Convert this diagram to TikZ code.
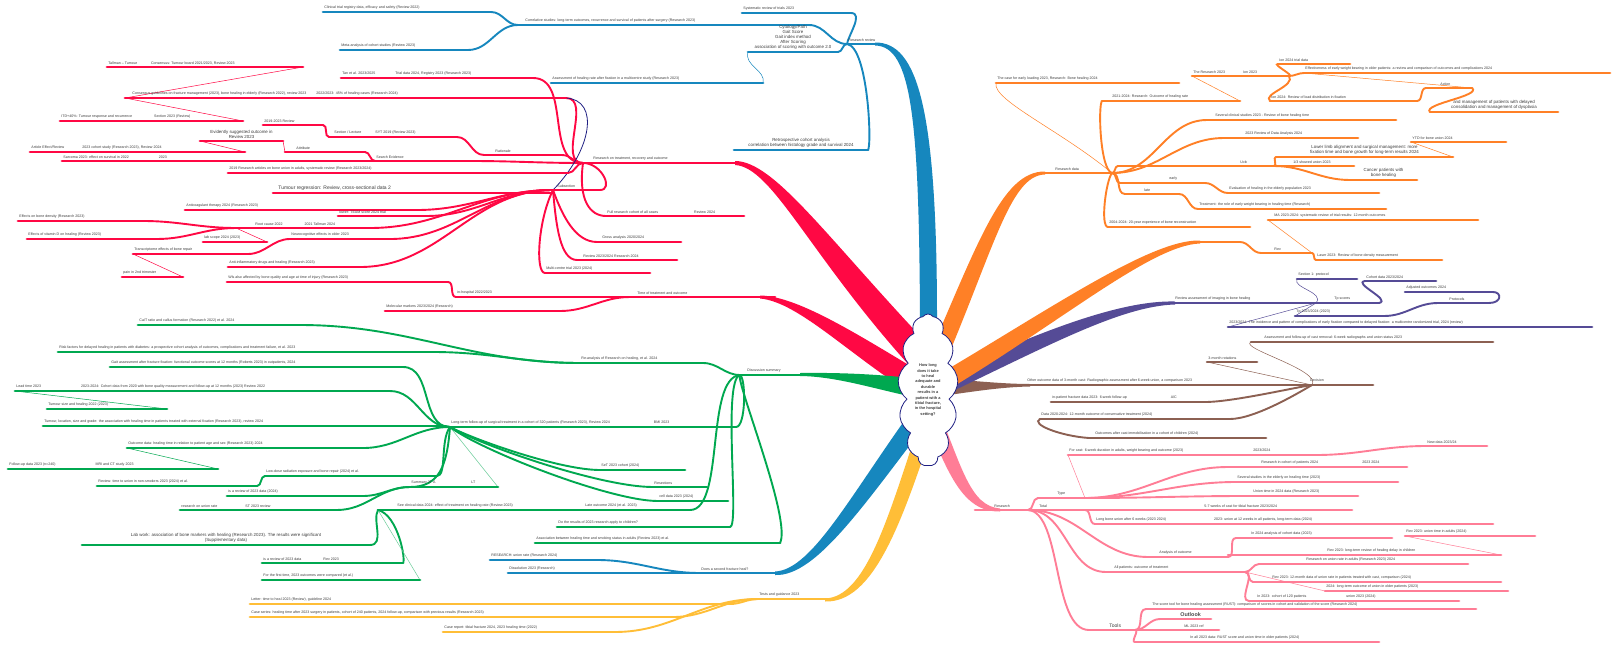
\documentclass[tikz,border=0pt]{standalone}
\usepackage{fontspec}
\setmainfont{Liberation Sans}
\usetikzlibrary{shapes.symbols,calc,backgrounds}
\definecolor{mmred}{RGB}{255,8,68}
\definecolor{mmblue}{RGB}{22,135,190}
\definecolor{mmgreen}{RGB}{0,168,80}
\definecolor{mmorange}{RGB}{255,128,38}
\definecolor{mmpurple}{RGB}{85,75,150}
\definecolor{mmbrown}{RGB}{140,96,82}
\definecolor{mmpink}{RGB}{255,125,150}
\definecolor{mmyellow}{RGB}{255,190,55}
\definecolor{mmnavy}{RGB}{30,30,130}
\definecolor{mmtext}{RGB}{60,60,60}
\tikzset{
 leafline/.style={line width=2.7pt,line cap=round},
 conn/.style={line width=1.9pt,line cap=round},
 thinconn/.style={line width=0.5pt,line cap=round},
 lbl/.style={font=\fontsize{3.6}{4.2}\selectfont,text=mmtext,inner sep=0pt,xshift=1.2pt,yshift=2.1pt},
 lblc/.style={font=\fontsize{4.4}{5}\selectfont,text=mmtext,inner sep=0pt,yshift=2.1pt,align=center},
}
\newcommand{\mmleaf}[6]{%
  \coordinate (#1-l) at (#3,#5);
  \coordinate (#1-r) at (#4,#5);
  \draw[leafline,#2] (#1-l) -- (#1-r);
  \node[lbl,anchor=south west] (#1) at (#1-l) {#6};
}
\newcommand{\mmleafc}[6]{%
  \coordinate (#1-l) at (#3,#5);
  \coordinate (#1-r) at (#4,#5);
  \draw[leafline,#2] (#1-l) -- (#1-r);
  \node[lblc,anchor=south] (#1) at ($(#1-l)!0.5!(#1-r)$) {#6};
}
\newcommand{\gap}[1]{\hspace*{#1pt}}
\begin{document}
\begin{tikzpicture}[x=1pt,y=-1pt]
\useasboundingbox (0,0) rectangle (1613,645);

% ===== BLUE TOP =====
\mmleaf{blmain}{mmblue}{847}{880}{44}{Research review}
\mmleaf{bl1}{mmblue}{518}{809}{25}{\gap{6}Correlative studies: long-term outcomes, recurrence and survival of patients after surgery (Research 2023)}
\mmleaf{bl1a}{mmblue}{323}{491}{12}{Clinical trial registry data, efficacy and safety (Review 2022)}
\mmleaf{bl1b}{mmblue}{340}{468}{50}{Meta-analysis of cohort studies (Review 2023)}
\mmleaf{bl2}{mmblue}{742}{851}{13}{Systematic review of trials 2023}
\mmleafc{bl3}{mmblue}{748}{838}{52}{Cytology/Path\\Gait Score\\Gait index method\\After Scoring\\association of scoring with outcome 2.0}
\mmleaf{bl4}{mmblue}{551}{763}{83}{Assessment of healing rate after fixation in a multicentre study (Research 2023)}
\mmleafc{bl5}{mmblue}{734}{868}{150}{Retrospective cohort analysis\\correlation between histology grade and survival 2024}

% ===== RED =====
\mmleaf{rdmain}{mmred}{583}{740}{163}{\gap{9}Research on treatment, recovery and outcome}
\mmleaf{rA}{mmred}{341}{533}{78}{Tan et al. 2023/2025\gap{20}Trial data 2024, Registry 2023 (Research 2023)}
\mmleaf{rB}{mmred}{125}{566}{98}{\gap{6}Consensus guidelines on fracture management (2023), bone healing in elderly (Research 2022), review 2023\gap{10}2022/2023: 45\% of healing cases (Research 2024)}
\mmleaf{rB1}{mmred}{107}{303}{67}{Tallman -- Tumour\gap{14}Consensus: Tumour board 2021/2023, Review 2023}
\mmleaf{rB2}{mmred}{60}{243}{121}{ITD+40\%: Tumour response and recurrence\gap{22}Section 2023 (Review)}
\mmleaf{rSec}{mmred}{329}{457}{137}{\gap{4}Section / Lecture\gap{14}SYT 2019 (Review 2023)}
\mmleaf{rSec1}{mmred}{263}{323}{125}{2019-2023 Review}
\mmleaf{rRat}{mmred}{484}{562}{155}{\gap{10}Rationale}
\mmleaf{rSearch}{mmred}{375}{470}{161}{Search Evidence}
\mmleaf{rSar}{mmred}{62}{375}{161}{Sarcoma 2023: effect on survival in 2022\gap{30}2023}
\mmleaf{rAtt}{mmred}{285}{365}{152}{\gap{10}Attribute}
\mmleafc{rEvi}{mmred}{200}{283}{141}{Evidently suggested outcome in\\Review 2023}
\mmleaf{rArt}{mmred}{30}{245}{152}{Article Effect/Review\gap{18}2023 cohort study (Research 2023), Review 2024}
\mmleaf{r2019}{mmred}{228}{568}{173}{2019 Research articles on bone union in adults, systematic review (Research 2023/2024)}
\mmleaf{rSub}{mmred}{553}{600}{190}{\gap{3}Subsection}
\mmleaf{rNeu}{mmred}{273}{553}{193}{\gap{4}{\fontsize{5}{6}\selectfont Tumour regression: Review, cross-sectional data 2}}
\mmleaf{rAnti}{mmred}{185}{417}{210}{Anticoagulant therapy 2024 (Research 2023)}
\mmleaf{rLow}{mmred}{338}{426}{216}{lower: TEAM score 2024 trial}
\mmleaf{rRoot}{mmred}{236}{370}{228}{\gap{18}Root cause 2022\gap{22}2021 Tallman 2024}
\mmleaf{rEff1}{mmred}{18}{143}{221}{Effects on bone density (Research 2023)}
\mmleaf{rEff2}{mmred}{27}{157}{239}{Effects of vitamin D on healing (Review 2023)}
\mmleaf{rLab}{mmred}{203}{267}{242}{lab scope 2024 (2023)}
\mmleaf{rNeuro}{mmred}{290}{390}{239}{Neurocognitive effects in older 2023}
\mmleaf{rTrans}{mmred}{133}{248}{254}{Transcriptome effects of bone repair}
\mmleaf{rPain}{mmred}{122}{183}{277}{pain in 2nd trimester}
\mmleaf{rAntiR}{mmred}{228}{360}{267}{Anti-inflammatory drugs and healing (Research 2023)}
\mmleaf{rFull}{mmred}{606}{744}{216}{Full research cohort of all cases\gap{36}Review 2024}
\mmleaf{rGross}{mmred}{597}{681}{242}{\gap{4}Gross analysis 2020/2024}
\mmleaf{rRev}{mmred}{577}{677}{260}{\gap{5}Review 2023/2024 Research 2024}
\mmleaf{rMulti}{mmred}{545}{650}{273}{Multi-centre trial 2023 (2024)}
\mmleaf{rWls}{mmred}{227}{448}{282}{Wls also affected by bone quality and age at time of injury (Research 2023)}
\mmleaf{rIn}{mmred}{456}{630}{297}{in-hospital 2022/2023}
\mmleaf{rTime}{mmred}{630}{775}{297}{\gap{6}Time of treatment and outcome}
\mmleaf{rMol}{mmred}{385}{560}{311}{Molecular markers 2023/2024 (Research)}

% ===== GREEN =====
\mmleaf{gmain}{mmgreen}{740}{810}{375}{\gap{6}Discussion summary}
\mmleaf{gRes}{mmgreen}{580}{703}{363}{Re-analysis of Research on healing, et al. 2024}
\mmleaf{gCa}{mmgreen}{138}{300}{325}{Ca/T ratio and callus formation (Research 2022) et al. 2024}
\mmleaf{gRas}{mmgreen}{58}{433}{352}{Risk factors for delayed healing in patients with diabetes: a prospective cohort analysis of outcomes, complications and treatment failure, et al. 2023}
\mmleaf{gLong}{mmgreen}{450}{736}{427}{Long-term follow-up of surgical treatment in a cohort of 320 patients (Research 2023), Review 2024\gap{44}BMI 2023}
\mmleaf{gAss}{mmgreen}{110}{403}{367}{Gait assessment after fracture fixation: functional outcome scores at 12 months (Roberts 2023) in outpatients, 2024}
\mmleaf{g2023}{mmgreen}{15}{390}{391}{Lead time 2023\gap{40}2023-2024: Cohort data from 2020 with bone quality measurement and follow-up at 12 months (2023) Review 2022}
\mmleaf{gTum}{mmgreen}{47}{167}{409}{Tumour size and healing 2022 (2023)}
\mmleaf{gTumL}{mmgreen}{43}{445}{426}{Tumour, location, size and grade: the association with healing time in patients treated with external fixation (Research 2023), review 2024}
\mmleaf{gOut}{mmgreen}{127}{363}{448}{Outcome data: healing time in relation to patient age and sex (Research 2023) 2024}
\mmleaf{gOut1}{mmgreen}{8}{218}{469}{Follow-up data 2023 (n=240)\gap{40}MRI and CT study 2023}
\mmleaf{gLo}{mmgreen}{265}{437}{476}{Low-dose radiation exposure and bone repair (2024) et al.}
\mmleaf{gRev}{mmgreen}{97}{257}{486}{Review: time to union in non-smokers 2023 (2024) et al.}
\mmleaf{gMain3}{mmgreen}{410}{498}{487}{Summary 2T A\gap{36}LT}
\mmleaf{gIs}{mmgreen}{227}{363}{496}{is a review of 2023 data (2024)}
\mmleaf{gResST}{mmgreen}{180}{337}{510}{research on union rate\gap{28}ST 2023 review}
\mmleaf{gSeT}{mmgreen}{600}{685}{470}{SeT 2023 cohort (2024)}
\mmleaf{gResec}{mmgreen}{653}{707}{487}{Resections}
\mmleaf{gCell}{mmgreen}{658}{728}{501}{cell data 2023 (2024)}
\mmleaf{gSea}{mmgreen}{378}{560}{510}{\gap{18}See clinical data 2024: effect of treatment on healing rate (Review 2023)}
\mmleaf{gLat}{mmgreen}{560}{690}{510}{\gap{24}Late outcome 2024 (et al. 2023)}
\mmleafc{gTwo}{mmgreen}{82}{370}{545}{Lab work: association of bone markers with healing (Research 2023). The results were significant\\(Supplementary data)}
\mmleaf{gIsA}{mmgreen}{262}{403}{563}{is a review of 2023 data\gap{22}Rev 2023}
\mmleaf{gFor}{mmgreen}{262}{420}{580}{For the first time, 2023 outcomes were compared (et al.)}
\mmleaf{gDo}{mmgreen}{557}{730}{527}{Do the results of 2023 research apply to children?}
\mmleaf{gLong2}{mmgreen}{535}{780}{543}{Association between healing time and smoking status in adults (Review 2023) et al.}

% ===== BLUE BOTTOM =====
\mmleaf{bbmain}{mmblue}{700}{780}{573}{Does a second fracture heal?}
\mmleaf{bb1}{mmblue}{490}{597}{560}{RESEARCH: union rate (Research 2024)}
\mmleaf{bb2}{mmblue}{508}{700}{573}{Dissolution 2023 (Research)}

% ===== YELLOW =====
\mmleaf{ymain}{mmyellow}{758}{829}{599}{Tests and guidance 2023}
\mmleaf{y1}{mmyellow}{250}{730}{604}{Letter: time to heal 2023 (Review), guideline 2024}
\mmleaf{y2}{mmyellow}{250}{673}{617}{Case series: healing time after 2023 surgery in patients, cohort of 240 patients, 2024 follow-up, comparison with previous results (Research 2023)}
\mmleaf{y3}{mmyellow}{443}{615}{632}{Case report: tibial fracture 2024, 2023 healing time (2022)}

% ===== ORANGE =====
\mmleaf{omain}{mmorange}{1040}{1112}{173}{\gap{14}Research data}
\mmleaf{oTop}{mmorange}{996}{1179}{83}{The case for early loading 2023, Research: Bone healing 2024}
\mmleaf{o2021}{mmorange}{1102}{1240}{101}{\gap{9}2021-2024: Research: Outcome of healing rate}
\mmleaf{oRes}{mmorange}{1192}{1289}{76}{The Research 2023\gap{18}Ion 2023}
\mmleaf{oIon1}{mmorange}{1278}{1350}{64}{Ion 2024 trial data}
\mmleaf{oLong}{mmorange}{1304}{1610}{73}{Effectiveness of early weight bearing in older patients: a review and comparison of outcomes and complications 2024}
\mmleaf{oIon2}{mmorange}{1270}{1417}{101}{Ion 2024: Review of load distribution in fixation}
\mmleaf{oAct}{mmorange}{1426}{1472}{88}{\gap{13}Action}
\mmleafc{oTwo1}{mmorange}{1430}{1558}{112}{and management of patients with delayed\\consolidation and management of dysplasia}
\mmleaf{oSev}{mmorange}{1207}{1396}{120}{\gap{7}Several clinical studies 2023 - Review of bone healing time}
\mmleaf{o2023}{mmorange}{1224}{1358}{138}{\gap{20}2023 Review of Data Analysis 2024}
\mmleaf{oUcb}{mmorange}{1118}{1274}{166}{\gap{121}Ucb}
\mmleafc{oTwo2}{mmorange}{1276}{1453}{157}{Lower limb alignment and surgical management: more\\fixation time and bone growth for long-term results 2024}
\mmleaf{oYTD}{mmorange}{1411}{1506}{142}{YTD for bone union 2024}
\mmleaf{oST}{mmorange}{1278}{1354}{166}{\gap{14}1/3 showed union 2023}
\mmleafc{oCan}{mmorange}{1350}{1417}{180}{Cancer patients with\\bone healing}
\mmleaf{oEarly}{mmorange}{1120}{1205}{183}{\gap{48}early}
\mmleaf{oEval}{mmorange}{1228}{1379}{193}{Evaluation of healing in the elderly population 2023}
\mmleaf{oEarly2}{mmorange}{1125}{1179}{194}{\gap{18}late}
\mmleaf{oTreat}{mmorange}{1198}{1386}{209}{Treatment: the role of early weight bearing in healing time (Research)}
\mmleaf{o2004}{mmorange}{1108}{1250}{227}{2004-2024: 20-year experience of bone reconstruction}
\mmleaf{oMain2}{mmorange}{1198}{1240}{242}{}
\mmleaf{oRev}{mmorange}{1261}{1312}{253}{\gap{12}Rev}
\mmleaf{oMA}{mmorange}{1268}{1478}{220}{\gap{5}MA 2023-2024: systematic review of trial results: 12-month outcomes}
\mmleaf{oLaser}{mmorange}{1316}{1442}{260}{Laser 2023: Review of bone density measurement}

% ===== PURPLE =====
\mmleaf{pmain}{mmpurple}{1169}{1379}{303}{\gap{5}Review assessment of imaging in bone healing\gap{84}Tp scores}
\coordinate (hubP) at (1316,303);
\mmleaf{pSec}{mmpurple}{1297}{1357}{279}{Section 1: protocol}
\mmleaf{pCol}{mmpurple}{1365}{1436}{281}{Cohort data 2023/2024}
\mmleaf{pTp}{mmpurple}{1295}{1384}{316}{Tp 2023/2024 (2023)}
\mmleaf{pProt}{mmpurple}{1438}{1489}{303}{\gap{10}Protocols}
\mmleaf{pAdj}{mmpurple}{1405}{1493}{292}{Adjusted outcomes 2024}
\mmleaf{pLong}{mmpurple}{1228}{1592}{327}{2023/2024: The incidence and pattern of complications of early fixation compared to delayed fixation: a multicentre randomized trial, 2024 (review)}

% ===== BROWN =====
\mmleaf{brmain}{mmbrown}{1026}{1373}{385}{Other outcome data of 3-month cast: Radiographic assessment after 6-week union, a comparison 2023\gap{118}Decision}
\coordinate (hubBr) at (1312,385);
\mmleaf{brUp}{mmbrown}{1251}{1493}{342}{\gap{12}Assessment and follow-up of cast removal: 6-week radiographs and union status 2023}
\mmleaf{brRot}{mmbrown}{1207}{1257}{362}{3-month rotations}
\mmleaf{brIn}{mmbrown}{1051}{1205}{402}{in-patient fracture data 2023: 6-week follow-up\gap{44}A/C}
\mmleaf{brData}{mmbrown}{1040}{1230}{419}{Data 2020-2024: 12-month outcome of conservative treatment (2024)}
\mmleaf{br2024}{mmbrown}{1089}{1266}{438}{\gap{5}Outcomes after cast immobilisation in a cohort of children (2024)}

% ===== PINK =====
\mmleaf{kmain}{mmpink}{975}{1028}{510}{\gap{18}Research}
\mmleaf{kType}{mmpink}{1038}{1085}{498}{\gap{18}Type}
\mmleaf{kFor}{mmpink}{1068}{1316}{455}{For cast: 6-week duration in adults, weight bearing and outcome (2023)\gap{70}2023/2024}
\mmleaf{kNew}{mmpink}{1426}{1487}{446}{New data 2023/24}
\mmleaf{kR2024}{mmpink}{1228}{1407}{467}{\gap{32}Research in cohort of patients 2024\gap{44}2023 2024}
\mmleaf{kSev}{mmpink}{1236}{1398}{482}{Several studies in the elderly on healing time (2023)}
\mmleaf{k2024}{mmpink}{1245}{1358}{496}{\gap{7}Union time in 2024 data (Research 2023)}
\mmleaf{kTal}{mmpink}{1038}{1085}{510}{Total}
\mmleaf{k57}{mmpink}{1085}{1352}{510}{\gap{118}5-7 weeks of cast for tibial fracture 2023/2024}
\mmleaf{kLongL}{mmpink}{1095}{1493}{524}{Long bone union after 6 weeks (2023 2024)\gap{48}2023: union at 12 weeks in all patients, long-term data (2024)}
\mmleaf{kAna}{mmpink}{1148}{1228}{557}{\gap{10}Analysis of outcome}
\mmleaf{kIn}{mmpink}{1236}{1392}{538}{\gap{14}In 2024 analysis of cohort data (2023)}
\mmleaf{kRev}{mmpink}{1228}{1501}{555}{\gap{98}Rev 2023: long-term review of healing delay in children}
\mmleaf{kRev2}{mmpink}{1405}{1535}{536}{Rev 2023: union time in adults (2024)}
\mmleaf{kAll}{mmpink}{1106}{1245}{572}{\gap{7}All patients: outcome of treatment}
\mmleaf{kResr}{mmpink}{1259}{1468}{564}{\gap{46}Research on union rate in adults (Research 2023) 2024}
\mmleaf{kRev3}{mmpink}{1253}{1501}{582}{\gap{18}Rev 2023: 12-month data of union rate in patients treated with cast, comparison (2024)}
\mmleaf{k2024b}{mmpink}{1325}{1508}{591}{2024: long-term outcome of union in older patients (2023)}
\mmleaf{kIn2}{mmpink}{1249}{1459}{601}{\gap{7}In 2023: cohort of 120 patients\gap{40}union 2023 (2024)}
\mmleaf{kTools}{mmpink}{1089}{1135}{630}{\gap{19}{\fontsize{5}{6}\selectfont Tools}}
\mmleaf{kLongT}{mmpink}{1146}{1476}{609}{\gap{5}The score tool for bone healing assessment (RUST): comparison of scores in cohort and validation of the score (Research 2024)}
\mmleaf{kBold}{mmpink}{1160}{1211}{619}{\gap{19}{\fontsize{5.4}{6}\selectfont\bfseries\color{black!70}Outlook}}
\mmleaf{kML}{mmpink}{1148}{1219}{630}{\gap{35}ML 2023 ref}
\mmleaf{kInL}{mmpink}{1135}{1379}{642}{\gap{54}In all 2023 data: RUST score and union time in older patients (2024)}

% ===== CENTER =====
\node[cloud, cloud puffs=13, cloud puff arc=110, cloud ignores aspect,
      minimum width=60pt, minimum height=152pt, draw=mmnavy, line width=0.8pt,
      fill=white, inner sep=0pt, align=center, text=mmtext,
      font=\bfseries\fontsize{3.9}{5.4}\selectfont] (center) at (928,390)
  {How long\\does it take\\to heal\\adequate and\\durable\\results in a\\patient with a\\tibial fracture,\\in the hospital\\setting?};

\begin{pgfonlayer}{background}
\fill[white] (0,0) rectangle (1613,645);
% tapers
\fill[mmblue] (920,380) -- (920,320) .. controls (919,120) and (912,46) .. (875,45.5) -- (875,42.5) .. controls (918,42) and (937,110) .. (937,320) -- (937,380) -- cycle;
\fill[mmred] (938,355) .. controls (829,241) and (775,161) .. (735,161) -- (735,165) .. controls (773,167) and (811,259) .. (918,375) -- cycle;
\fill[mmred] (934,380) .. controls (866,340) and (800,296) .. (760,295.5) -- (760,298.5) .. controls (800,302) and (854,360) .. (922,400) -- cycle;
\fill[mmgreen] (928,380) .. controls (880,374) and (840,372.5) .. (800,373) -- (800,376) .. controls (840,376.5) and (880,391) .. (928,400) -- cycle;
\fill[mmblue] (936,411) .. controls (867,500) and (817,577) .. (775,575) -- (775,571.5) .. controls (813,570) and (853,490) .. (920,399) -- cycle;
\fill[mmyellow] (935,422) .. controls (902,522) and (874,603) .. (825,601.5) -- (825,598.5) .. controls (866,597) and (888,518) .. (921,418) -- cycle;
\fill[mmpink] (937,407) .. controls (962,467) and (970,506) .. (1000,508.5) -- (1000,511.5) .. controls (962,512) and (948,473) .. (923,413) -- cycle;
\fill[mmbrown] (928,378) .. controls (970,380) and (1000,384) .. (1030,384) -- (1030,386.5) .. controls (1000,387) and (970,392) .. (928,398) -- cycle;
\fill[mmpurple] (934,400) .. controls (1044,348) and (1120,306) .. (1175,304.5) -- (1175,301.5) .. controls (1120,300) and (1036,332) .. (926,384) -- cycle;
\fill[mmorange] (936,384) .. controls (993,254) and (1009,175) .. (1045,174.5) -- (1045,171.5) .. controls (1001,171) and (977,246) .. (920,376) -- cycle;
\fill[mmorange] (934,398) .. controls (1054,328) and (1150,245) .. (1200,243.5) -- (1200,240.5) .. controls (1150,239) and (1046,312) .. (926,382) -- cycle;

% blue top connectors
\draw[conn,mmblue] (blmain-l) to[out=180,in=0] (bl1-r);
\draw[conn,mmblue] (bl1-l) to[out=180,in=0] (bl1a-r);
\draw[conn,mmblue] (bl1-l) to[out=180,in=0] (bl1b-r);
\draw[conn,mmblue] (bl2-r) .. controls (864,13) and (848,36) .. (blmain-l);
\draw[conn,mmblue] (blmain-l) to[out=180,in=0] (bl3-r);
\draw[thinconn,mmblue] (bl3-l) .. controls (744,66) and (766,70) .. (bl4-r);
\draw[conn,mmblue] (blmain-l) .. controls (868,47) and (872,145) .. (bl5-r);

% red connectors
\draw[conn,mmred] (rA-r) to[out=0,in=180] (rdmain-l);
\draw[conn,mmred] (rB-r) to[out=0,in=180] (rdmain-l);
\draw[thinconn,mmred] (rB-l) -- (rB1-r);
\draw[thinconn,mmred] (rB-l) -- (rB2-r);
\draw[conn,mmred] (rSec-l) to[out=180,in=0] (rSec1-r);
\draw[conn,mmred] (rSec-r) to[out=0,in=180] (rRat-l);
\draw[conn,mmred] (rRat-r) to[out=0,in=180] (rdmain-l);
\draw[conn,mmred] (rSearch-r) to[out=0,in=180] (rdmain-l);
\draw[conn,mmred] (rSearch-l) to[out=180,in=0] (rAtt-r);
\draw[thinconn,mmred] (rAtt-l) -- (rEvi-r);
\draw[thinconn,mmred] (rEvi-l) -- (rArt-r);
\draw[conn,mmred] (r2019-r) to[out=0,in=180] (rdmain-l);
\draw[conn,mmred] (rSub-r) .. controls (614,190) and (602,163) .. (rdmain-l);
\draw[line width=0.8pt,mmnavy] (rB-r) .. controls (600,100) and (592,150) .. (rSub-l);
\draw[conn,mmred] (rAnti-r) to[out=0,in=180] (rSub-l);
\draw[conn,mmred] (rLow-r) to[out=0,in=180] (rSub-l);
\draw[conn,mmred] (rRoot-r) to[out=0,in=180] (rSub-l);
\draw[conn,mmred] (rRoot-l) to[out=180,in=0] (rEff1-r);
\draw[conn,mmred] (rRoot-l) to[out=180,in=0] (rEff2-r);
\draw[thinconn,mmred] (rRoot-l) -- (rLab-r);
\draw[conn,mmred] (rNeuro-r) to[out=0,in=180] (rSub-l);
\draw[conn,mmred] (rNeuro-l) to[out=180,in=0] (rTrans-r);
\draw[thinconn,mmred] (rTrans-l) -- (rPain-r);
\draw[conn,mmred] (rAntiR-r) to[out=0,in=180] (rSub-l);
\draw[conn,mmred] (rdmain-l) .. controls (578,200) and (590,216) .. (rFull-l);
\draw[conn,mmred] (rSub-l) .. controls (562,215) and (575,242) .. (rGross-l);
\draw[conn,mmred] (rSub-l) .. controls (556,225) and (560,260) .. (rRev-l);
\draw[conn,mmred] (rSub-l) .. controls (538,220) and (535,273) .. (rMulti-l);
\draw[conn,mmred] (rIn-l) to[out=180,in=0] (rWls-r);
\draw[conn,mmred] (rMol-r) to[out=0,in=180] (rTime-l);

% green connectors
\draw[conn,mmgreen] (gRes-r) to[out=0,in=180] (gmain-l);
\draw[conn,mmgreen] (gRes-l) to[out=180,in=0] (gCa-r);
\draw[conn,mmgreen] (gRes-l) to[out=180,in=0] (gRas-r);
\draw[conn,mmgreen] (gmain-l) .. controls (746,378) and (746,427) .. (gLong-r);
\draw[conn,mmgreen] (gLong-l) to[out=180,in=0] (gAss-r);
\draw[conn,mmgreen] (gLong-l) to[out=180,in=0] (g2023-r);
\draw[thinconn,mmgreen] (g2023-l) -- (gTum-r);
\draw[conn,mmgreen] (gLong-l) -- (gTumL-r);
\draw[conn,mmgreen] (gLong-l) to[out=180,in=0] (gOut-r);
\draw[thinconn,mmgreen] (gOut-l) -- (gOut1-r);
\draw[conn,mmgreen] (gLong-l) .. controls (440,440) and (447,476) .. (gLo-r);
\draw[conn,mmgreen] (gLo-l) to[out=180,in=0] (gRev-r);
\draw[conn,mmgreen] (gLong-l) .. controls (447,465) and (440,487) .. (gMain3-l);
\draw[thinconn,mmgreen!60] (gLong-l) -- (gMain3-r);
\draw[conn,mmgreen] (gMain3-l) to[out=180,in=0] (gIs-r);
\draw[conn,mmgreen] (gMain3-l) to[out=180,in=0] (gResST-r);
\draw[conn,mmgreen] (gLong-l) .. controls (475,440) and (560,470) .. (gSeT-l);
\draw[conn,mmgreen] (gLong-l) .. controls (480,445) and (600,487) .. (gResec-l);
\draw[conn,mmgreen] (gLong-l) .. controls (480,450) and (610,501) .. (gCell-l);
\draw[conn,mmgreen] (gmain-l) .. controls (705,378) and (725,510) .. (gLat-r);
\draw[conn,mmgreen] (gSea-l) .. controls (372,520) and (385,545) .. (gTwo-r);
\draw[conn,mmgreen] (gSea-l) .. controls (398,515) and (406,560) .. (gIsA-r);
\draw[thinconn,mmgreen!60] (gSea-l) -- (gFor-r);
\draw[conn,mmgreen] (gmain-l) .. controls (722,380) and (740,527) .. (gDo-r);
\draw[conn,mmgreen] (gmain-l) .. controls (735,380) and (792,520) .. (gLong2-r);

% blue bottom / yellow
\draw[conn,mmblue] (bb1-r) to[out=0,in=180] (bbmain-l);
\draw[conn,mmyellow] (y1-r) to[out=0,in=180] (ymain-l);
\draw[conn,mmyellow] (y2-r) to[out=0,in=180] (ymain-l);
\draw[conn,mmyellow] (y3-r) to[out=0,in=180] (ymain-l);

% orange connectors
\draw[thinconn,mmorange] (omain-r) .. controls (1060,130) and (992,100) .. (oTop-l);
\draw[conn,mmorange] (omain-r) .. controls (1100,170) and (1098,105) .. (o2021-l);
\draw[thinconn,mmorange] (o2021-r) -- (oRes-l);
\draw[conn,mmorange] (oRes-r) to[out=0,in=180] (oIon1-l);
\draw[conn,mmorange] (oRes-r) to[out=0,in=180] (oLong-l);
\draw[conn,mmorange] (oRes-r) .. controls (1296,86) and (1262,94) .. (oIon2-l);
\draw[conn,mmorange] (oIon2-r) to[out=0,in=180] (oAct-l);
\draw[thinconn,mmorange] (oLong-l) -- (oAct-r);
\draw[conn,mmorange] (oAct-r) .. controls (1482,96) and (1422,104) .. (oTwo1-l);
\draw[conn,mmorange] (omain-r) to[out=0,in=180] (oSev-l);
\draw[conn,mmorange] (omain-r) to[out=0,in=180] (o2023-l);
\draw[conn,mmorange] (omain-r) to[out=0,in=180] (oUcb-l);
\draw[conn,mmorange] (oUcb-r) to[out=0,in=180] (oTwo2-l);
\draw[thinconn,mmorange] (oTwo2-r) -- (oYTD-l);
\draw[conn,mmorange] (oUcb-r) to[out=0,in=180] (oCan-l);
\draw[conn,mmorange] (omain-r) to[out=0,in=180] (oEarly-l);
\draw[conn,mmorange] (oEarly-r) to[out=0,in=180] (oEval-l);
\draw[conn,mmorange] (omain-r) to[out=0,in=180] (oEarly2-l);
\draw[conn,mmorange] (oEarly2-r) to[out=0,in=180] (oTreat-l);
\draw[conn,mmorange] (omain-r) .. controls (1106,180) and (1100,227) .. (o2004-l);
\draw[conn,mmorange] (oMain2-r) to[out=0,in=180] (oRev-l);
\draw[thinconn,mmorange] (oRev-r) -- (oMA-l);
\draw[conn,mmorange] (oRev-r) to[out=0,in=180] (oLaser-l);

% purple
\draw[thinconn,mmpurple] (hubP) .. controls (1325,292) and (1292,288) .. (pSec-l);
\draw[conn,mmpurple] (pmain-r) .. controls (1392,300) and (1352,283) .. (pCol-l);
\draw[thinconn,mmpurple] (hubP) -- (pTp-l);
\draw[conn,mmpurple] (pTp-r) to[out=0,in=180] (pProt-l);
\draw[conn,mmpurple] (pProt-r) .. controls (1502,303) and (1502,292) .. (pAdj-r);
\draw[thinconn,mmpurple] (hubP) -- (pLong-l);

% brown
\draw[thinconn,mmbrown] (hubBr) .. controls (1322,370) and (1238,348) .. (brUp-l);
\draw[thinconn,mmbrown] (hubBr) -- (brRot-l);
\draw[conn,mmbrown] (hubBr) .. controls (1292,388) and (1232,402) .. (brIn-r);
\draw[conn,mmbrown] (hubBr) .. controls (1300,392) and (1255,419) .. (brData-r);
\draw[conn,mmbrown] (brData-l) .. controls (1030,424) and (1060,436) .. (br2024-l);

% pink
\draw[conn,mmpink] (kmain-r) to[out=0,in=180] (kType-l);
\draw[thinconn,mmpink] (kType-r) -- (kFor-l);
\draw[conn,mmpink] (kFor-r) to[out=0,in=180] (kNew-l);
\draw[conn,mmpink] (kType-r) to[out=0,in=180] (kR2024-l);
\draw[conn,mmpink] (kType-r) to[out=0,in=180] (kSev-l);
\draw[conn,mmpink] (kType-r) to[out=0,in=180] (k2024-l);
\draw[conn,mmpink] (kmain-r) -- (kTal-l);
\draw[conn,mmpink] (kTal-r) to[out=0,in=180] (kLongL-l);
\draw[conn,mmpink] (kmain-r) to[out=0,in=180] (kAna-l);
\draw[conn,mmpink] (kAna-r) to[out=0,in=180] (kIn-l);
\draw[thinconn,mmpink] (kRev-r) -- (kRev2-l);
\draw[conn,mmpink] (kmain-r) to[out=0,in=180] (kAll-l);
\draw[conn,mmpink] (kAll-r) to[out=0,in=180] (kResr-l);
\draw[conn,mmpink] (kAll-r) to[out=0,in=180] (kRev3-l);
\draw[thinconn,mmpink] (kAll-r) -- (k2024b-l);
\draw[conn,mmpink] (kAll-r) to[out=0,in=180] (kIn2-l);
\draw[conn,mmpink] (kmain-r) .. controls (1062,512) and (1052,630) .. (kTools-l);
\draw[conn,mmpink] (kTools-r) to[out=0,in=180] (kLongT-l);
\draw[conn,mmpink] (kTools-r) to[out=0,in=180] (kBold-l);
\draw[conn,mmpink] (kTools-r) to[out=0,in=180] (kML-l);
\draw[conn,mmpink] (kTools-r) to[out=0,in=180] (kInL-l);
\end{pgfonlayer}
\end{tikzpicture}
\end{document}
